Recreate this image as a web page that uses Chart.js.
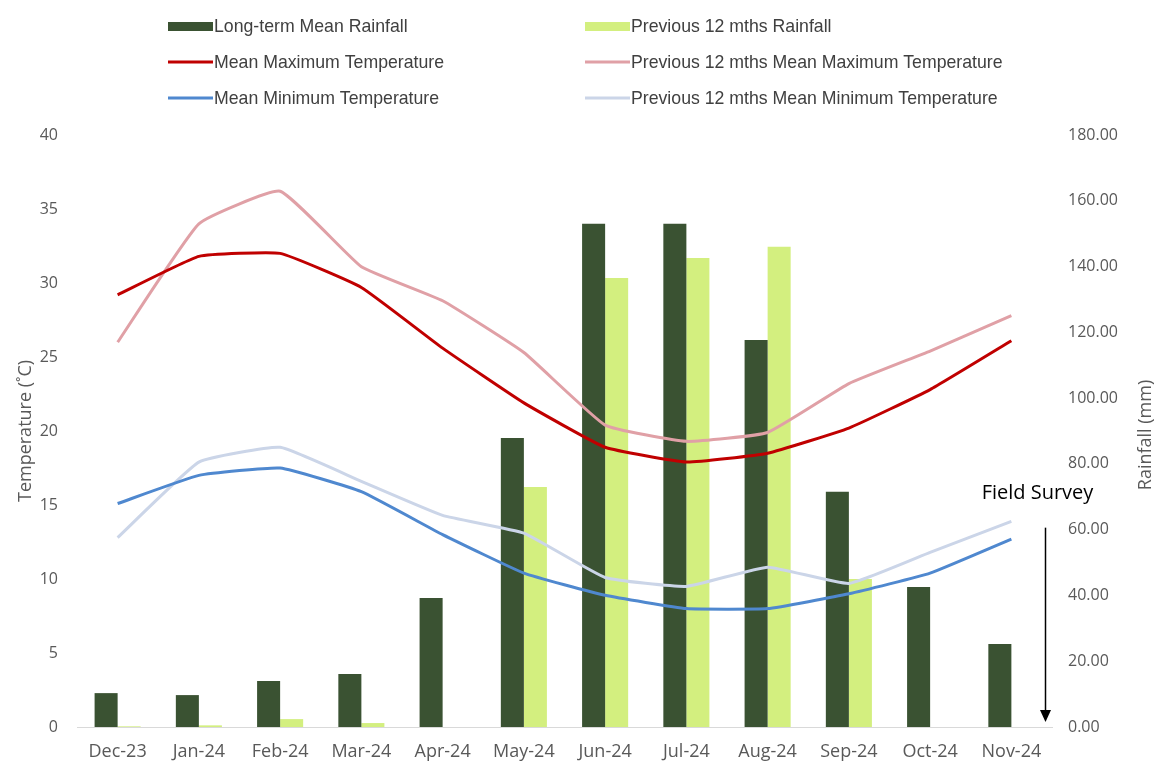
<!DOCTYPE html>
<html>
<head>
<meta charset="utf-8">
<script src="https://cdn.jsdelivr.net/npm/chart.js@4.4.1/dist/chart.umd.min.js"></script>
<style>
  html, body { margin: 0; padding: 0; background: #ffffff; }
  #wrap { position: relative; width: 1157px; height: 766px; }
</style>
</head>
<body>
<div id="wrap"><canvas id="c" width="1157" height="766"></canvas></div>
<script>
const categories = ['Dec-23','Jan-24','Feb-24','Mar-24','Apr-24','May-24','Jun-24','Jul-24','Aug-24','Sep-24','Oct-24','Nov-24'];
const longTermRain = [10.3, 9.7, 14.0, 16.1, 39.2, 87.9, 153.0, 153.0, 117.7, 71.5, 42.6, 25.2];
const prevRain     = [0.2, 0.5, 2.4, 1.2, 0, 73.0, 136.5, 142.6, 146.0, 45.0, 0, 0];
const meanMax = [29.2, 31.8, 32.0, 29.7, 25.6, 21.9, 18.9, 17.9, 18.5, 20.2, 22.8, 26.1];
const prevMax = [26.0, 34.0, 36.2, 31.1, 28.8, 25.3, 20.4, 19.3, 19.9, 23.2, 25.4, 27.8];
const meanMin = [15.1, 17.0, 17.5, 15.9, 13.0, 10.4, 8.9, 8.0, 8.0, 9.0, 10.4, 12.7];
const prevMin = [12.8, 17.9, 18.9, 16.6, 14.3, 13.1, 10.1, 9.5, 10.8, 9.7, 11.8, 13.9];
const tempTicks = { min: 0, max: 40, step: 5 };
const rainTicks = { min: 0, max: 180, step: 20 };
const annotationText = 'Field Survey';
const annotationRainFrom = 60;
const rainTitle = 'Rainfall (mm)';

const C = {
  dark: '#3a5232', light: '#d3ef7f', red: '#c00000', pink: '#e0a0a6',
  blue: '#4f88cf', paleBlue: '#cbd5e8', tick: '#595959', text: '#404040'
};

// legend layout: [datasetLabel, column, row]
const legendOrder = [
  ['Long-term Mean Rainfall', 0, 0],
  ['Previous 12 mths Rainfall', 1, 0],
  ['Mean Maximum Temperature', 0, 1],
  ['Previous 12 mths Mean Maximum Temperature', 1, 1],
  ['Mean Minimum Temperature', 0, 2],
  ['Previous 12 mths Mean Minimum Temperature', 1, 2]
];

const legendPlugin = {
  id: 'gridLegend',
  afterDraw(chart) {
    const ctx = chart.ctx;
    const colX = [168, 585], rowY = [26, 62, 98];
    ctx.save();
    legendOrder.forEach(([label, c, r]) => {
      const ds = chart.data.datasets.find(d => d.label === label);
      const x = colX[c], y = rowY[r];
      if (ds.type === 'bar') {
        ctx.fillStyle = ds.backgroundColor;
        ctx.fillRect(x, y - 4, 45, 9);
      } else {
        ctx.strokeStyle = ds.borderColor;
        ctx.lineWidth = 3;
        ctx.beginPath(); ctx.moveTo(x, y); ctx.lineTo(x + 45, y); ctx.stroke();
      }
      ctx.fillStyle = C.text;
      ctx.font = '17.7px "Liberation Sans", Arial, sans-serif';
      ctx.textBaseline = 'middle';
      ctx.textAlign = 'left';
      ctx.fillText(label, x + 46, y + 1);
    });
    ctx.restore();
  }
};

const annotationPlugin = {
  id: 'fieldSurvey',
  afterDraw(chart) {
    const ctx = chart.ctx;
    const xs = chart.scales.x, yr = chart.scales.yR;
    const last = categories.length - 1;
    const step = xs.getPixelForValue(last) - xs.getPixelForValue(last - 1);
    const ax = xs.getPixelForValue(last) + step * 0.42;
    const yTop = yr.getPixelForValue(annotationRainFrom) - 2;
    const yBot = yr.getPixelForValue(0) - 5;
    ctx.save();
    ctx.strokeStyle = '#000'; ctx.fillStyle = '#000'; ctx.lineWidth = 1.5;
    ctx.beginPath(); ctx.moveTo(ax, yTop); ctx.lineTo(ax, yBot - 8); ctx.stroke();
    ctx.beginPath(); ctx.moveTo(ax - 5.5, yBot - 12); ctx.lineTo(ax + 5.5, yBot - 12); ctx.lineTo(ax, yBot); ctx.closePath(); ctx.fill();
    ctx.font = '20px "Open Sans", sans-serif';
    ctx.textAlign = 'center'; ctx.textBaseline = 'middle';
    ctx.fillText(annotationText, ax - 8, yTop - 34);
    // right axis title, reading bottom-to-top
    const ca = chart.chartArea;
    ctx.fillStyle = C.tick;
    ctx.font = '18px "Open Sans", sans-serif';
    ctx.translate(1146, (ca.top + ca.bottom) / 2 + 4);
    ctx.rotate(-Math.PI / 2);
    ctx.fillText(rainTitle, 0, 0);
    ctx.restore();
  }
};

const lineDs = (label, data, color) => ({
  type: 'line', label, data, yAxisID: 'yL', borderColor: color, backgroundColor: color,
  borderWidth: 3, pointRadius: 0, tension: 0.12, order: 1, fill: false
});

new Chart(document.getElementById('c'), {
  data: {
    labels: categories,
    datasets: [
      { type: 'bar', label: 'Long-term Mean Rainfall', data: longTermRain, yAxisID: 'yR', backgroundColor: C.dark, order: 2, categoryPercentage: 0.567, barPercentage: 1 },
      { type: 'bar', label: 'Previous 12 mths Rainfall', data: prevRain, yAxisID: 'yR', backgroundColor: C.light, order: 2, categoryPercentage: 0.567, barPercentage: 1 },
      lineDs('Mean Maximum Temperature', meanMax, C.red),
      lineDs('Mean Minimum Temperature', meanMin, C.blue),
      lineDs('Previous 12 mths Mean Maximum Temperature', prevMax, C.pink),
      lineDs('Previous 12 mths Mean Minimum Temperature', prevMin, C.paleBlue)
    ]
  },
  options: {
    responsive: false, animation: false,
    layout: { padding: { top: 135, left: 0, right: 0, bottom: 0 } },
    plugins: { legend: { display: false }, tooltip: { enabled: false } },
    scales: {
      x: {
        grid: { display: false, drawTicks: false },
        border: { display: true, color: '#d9d9d9' },
        ticks: { color: C.tick, font: { family: 'Open Sans', size: 18 }, padding: 14, maxRotation: 0 },
        afterFit(s) { s.height = 39; }
      },
      yL: {
        position: 'left', min: tempTicks.min, max: tempTicks.max,
        grid: { display: false, drawTicks: false }, border: { display: false },
        ticks: { stepSize: tempTicks.step, color: C.tick, font: { family: 'Open Sans', size: 16 }, padding: 19 },
        title: { display: true, text: 'Temperature (˚C)', color: C.tick, font: { family: 'Open Sans', size: 18 }, padding: { top: 15, bottom: 0 } },
        afterFit(s) { s.width = 77; }
      },
      yR: {
        position: 'right', min: rainTicks.min, max: rainTicks.max,
        grid: { display: false, drawTicks: false }, border: { display: false },
        ticks: { stepSize: rainTicks.step, color: C.tick, font: { family: 'Open Sans', size: 16 }, padding: 16, callback: v => Number(v).toFixed(2) },
        title: { display: false },
        afterFit(s) { s.width = 105; }
      }
    }
  },
  plugins: [legendPlugin, annotationPlugin]
});
</script>
</body>
</html>
